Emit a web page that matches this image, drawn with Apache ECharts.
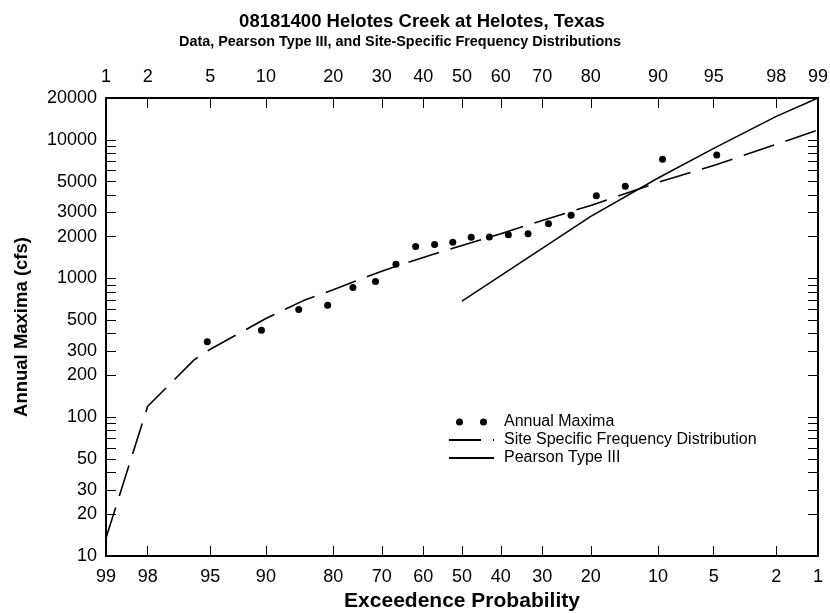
<!DOCTYPE html>
<html><head><meta charset="utf-8">
<script src="https://cdn.jsdelivr.net/npm/echarts@6/dist/echarts.min.js"></script>
<style>html,body{margin:0;padding:0;background:#fff}#c{width:830px;height:613px}</style>
</head><body><div id="c"></div>
<script>
// ---------- data ----------
const probTicks = [1, 2, 5, 10, 20, 30, 40, 50, 60, 70, 80, 90, 95, 98, 99];
const topTickLabels = ['1','2','5','10','20','30','40','50','60','70','80','90','95','98','99'];
const bottomTickLabels = ['99','98','95','90','80','70','60','50','40','30','20','10','5','2','1'];
const yTickValues = [10,20,30,40,50,60,70,80,90,100,200,300,400,500,600,700,800,900,
  1000,2000,3000,4000,5000,6000,7000,8000,9000,10000,20000];
const yLabelValues = [10,20,30,50,100,200,300,500,1000,2000,3000,5000,10000,20000];

// Annual maxima: non-exceedance probability (%) and peak flow (cfs)
const maximaProb = [4.8, 9.5, 14.3, 19.0, 23.8, 28.6, 33.3, 38.1, 42.9, 47.6,
  52.4, 57.1, 61.9, 66.7, 71.4, 76.2, 81.0, 85.7, 90.5, 95.2];
const maximaCfs = [350, 424, 597, 641, 861, 951, 1268, 1702, 1758, 1828,
  1986, 1994, 2064, 2098, 2477, 2863, 3945, 4615, 7230, 7755];

// Site specific frequency distribution
const siteProb = [1, 2, 4, 5, 10, 15, 20, 30, 40, 50, 60, 70, 80, 90, 95, 98, 99];
const siteCfs = [13.5, 120, 259, 309, 515, 693, 830, 1130, 1419, 1730, 2105, 2620, 3365, 4930, 6520, 9270, 11750];

// Pearson Type III
const pearsonProb = [50, 80, 90, 95, 98, 99];
const pearsonCfs = [686, 2805, 5300, 8670, 14750, 20000];

// ---------- probability-paper transform ----------
function probit(p) {
  const a=[-3.969683028665376e+01,2.209460984245205e+02,-2.759285104469687e+02,1.383577518672690e+02,-3.066479806614716e+01,2.506628277459239e+00];
  const b=[-5.447609879822406e+01,1.615858368580409e+02,-1.556989798598866e+02,6.680131188771972e+01,-1.328068155288572e+01];
  const c=[-7.784894002430293e-03,-3.223964580411365e-01,-2.400758277161838e+00,-2.549732539343734e+00,4.374664141464968e+00,2.938163982698783e+00];
  const d=[7.784695709041462e-03,3.224671290700398e-01,2.445134137142996e+00,3.754408661907416e+00];
  const pl = 0.02425, ph = 1 - pl;
  let q, r;
  if (p < pl) { q = Math.sqrt(-2*Math.log(p)); return (((((c[0]*q+c[1])*q+c[2])*q+c[3])*q+c[4])*q+c[5])/((((d[0]*q+d[1])*q+d[2])*q+d[3])*q+1); }
  if (p <= ph) { q = p - 0.5; r = q*q; return (((((a[0]*r+a[1])*r+a[2])*r+a[3])*r+a[4])*r+a[5])*q/(((((b[0]*r+b[1])*r+b[2])*r+b[3])*r+b[4])*r+1); }
  q = Math.sqrt(-2*Math.log(1-p)); return -(((((c[0]*q+c[1])*q+c[2])*q+c[3])*q+c[4])*q+c[5])/((((d[0]*q+d[1])*q+d[2])*q+d[3])*q+1);
}
const zOf = pct => probit(pct / 100);
const zTicks = probTicks.map(zOf);
const xMin = zTicks[0], xMax = zTicks[zTicks.length - 1];
const yTicks = yTickValues.map(Math.log10);
const yLabs = yLabelValues.map(Math.log10);
const yMin = Math.log10(yTickValues[0]), yMax = Math.log10(yTickValues[yTickValues.length - 1]);

function pickLabel(v, labels) {
  const i = zTicks.findIndex(t => Math.abs(t - v) < 1e-6);
  return i >= 0 ? labels[i] : '';
}
const toPts = (ps, vs) => ps.map((p, i) => [zOf(p), Math.log10(vs[i])]);

const FONT = '"Liberation Sans", Arial, Helvetica, sans-serif';
const BLACK = '#000';

function xAxisDef(pos, labels, withName) {
  const ax = {
    type: 'value', position: pos, min: xMin, max: xMax,
    axisLine: { show: true, onZero: false, lineStyle: { color: BLACK, width: 2 } },
    axisTick: { show: true, inside: true, length: 10, customValues: zTicks, lineStyle: { color: BLACK, width: 1 } },
    axisLabel: { show: true, customValues: zTicks, formatter: v => pickLabel(v, labels),
      margin: 12, color: BLACK, fontSize: 18, fontFamily: FONT },
    splitLine: { show: false }, minorTick: { show: false }
  };
  if (withName) {
    ax.name = 'Exceedence Probability';
    ax.nameLocation = 'middle';
    ax.nameGap = 34;
    ax.nameTextStyle = { fontSize: 21, fontWeight: 'bold', color: BLACK, fontFamily: FONT };
  }
  return ax;
}
function yAxisDef(pos, showLabels) {
  const ax = {
    type: 'value', position: pos, min: yMin, max: yMax,
    axisLine: { show: true, onZero: false, lineStyle: { color: BLACK, width: 2 } },
    axisTick: { show: true, inside: true, length: 10, customValues: yTicks, lineStyle: { color: BLACK, width: 1 } },
    axisLabel: { show: showLabels, customValues: yLabs,
      formatter: v => String(Math.round(Math.pow(10, v))),
      margin: 9, color: BLACK, fontSize: 18, fontFamily: FONT },
    splitLine: { show: false }
  };
  if (showLabels) {
    ax.name = 'Annual Maxima (cfs)';
    ax.nameLocation = 'middle';
    ax.nameGap = 75;
    ax.nameTextStyle = { fontSize: 18.5, fontWeight: 'bold', color: BLACK, fontFamily: FONT };
  }
  return ax;
}

const twoDots = 'path://M0,3.5a3.5,3.5 0 1,0 7,0a3.5,3.5 0 1,0 -7,0zM24,3.5a3.5,3.5 0 1,0 7,0a3.5,3.5 0 1,0 -7,0z';

const chart = echarts.init(document.getElementById('c'), null, { renderer: 'canvas' });
chart.setOption({
  animation: false,
  backgroundColor: '#fff',
  title: [
    { text: '08181400 Helotes Creek at Helotes, Texas', left: 422, top: 12, textAlign: 'center', padding: 0,
      textStyle: { fontSize: 18.5, fontWeight: 'bold', color: BLACK, fontFamily: FONT } },
    { text: 'Data, Pearson Type III, and Site-Specific Frequency Distributions', left: 400, top: 35, textAlign: 'center', padding: 0,
      textStyle: { fontSize: 14.4, fontWeight: 'bold', color: BLACK, fontFamily: FONT } }
  ],
  grid: { left: 106, right: 12, top: 98, bottom: 57, containLabel: false, outerBoundsMode: 'none' },
  xAxis: [xAxisDef('bottom', bottomTickLabels, true), xAxisDef('top', topTickLabels, false)],
  yAxis: [yAxisDef('left', true), yAxisDef('right', false)],
  legend: {
    orient: 'vertical', left: 448, top: 414, padding: 0,
    itemWidth: 45, itemHeight: 7, itemGap: 2, selectedMode: false,
    textStyle: { fontSize: 16, color: BLACK, fontFamily: FONT, padding: [0, 0, 0, 5] },
    data: [
      { name: 'Annual Maxima', icon: twoDots, itemStyle: { color: BLACK, opacity: 1 } },
      { name: 'Site Specific Frequency Distribution', itemStyle: { opacity: 0 } },
      { name: 'Pearson Type III', itemStyle: { opacity: 0 } }
    ]
  },
  series: [
    { name: 'Annual Maxima', type: 'scatter', xAxisIndex: 0, yAxisIndex: 0,
      symbol: 'circle', symbolSize: 7, itemStyle: { color: BLACK, opacity: 1 },
      data: toPts(maximaProb, maximaCfs) },
    { name: 'Site Specific Frequency Distribution', type: 'line', xAxisIndex: 0, yAxisIndex: 0,
      symbol: 'none', showSymbol: false, smooth: false,
      lineStyle: { color: BLACK, width: 1.6, type: [32, 12] }, itemStyle: { color: BLACK },
      data: toPts(siteProb, siteCfs) },
    { name: 'Pearson Type III', type: 'line', xAxisIndex: 0, yAxisIndex: 0,
      symbol: 'none', showSymbol: false, smooth: false,
      lineStyle: { color: BLACK, width: 1.5, type: 'solid' }, itemStyle: { color: BLACK },
      data: toPts(pearsonProb, pearsonCfs) }
  ]
});
</script></body></html>
